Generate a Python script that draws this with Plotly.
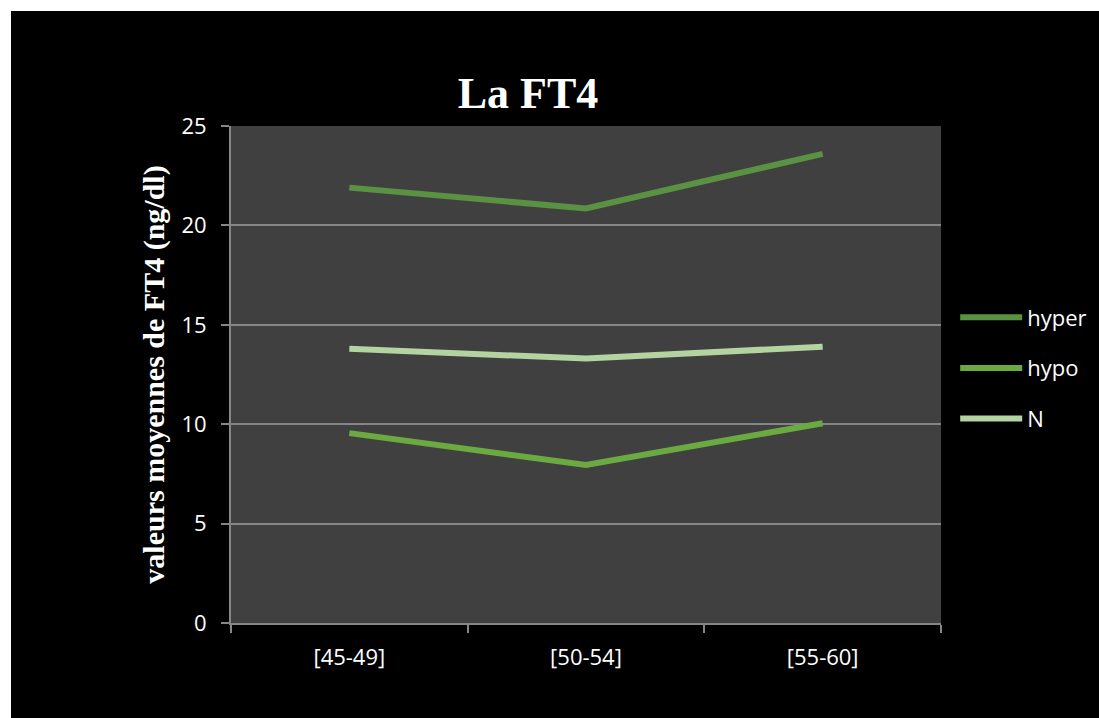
import plotly.graph_objects as go

categories = ["[45-49]", "[50-54]", "[55-60]"]
hyper = [21.9, 20.85, 23.6]
hypo = [9.55, 7.95, 10.05]
normal = [13.8, 13.3, 13.9]
series_names = ["hyper", "hypo", "N"]
series_colors = ["#5A9142", "#6BAA41", "#B3D3A0"]
y_ticks = [0, 5, 10, 15, 20, 25]

W, H = 1099, 718
L, R, T, B = 231, 158, 126, 95
pw, ph = W - L - R, H - T - B

fig = go.Figure()
for name, vals, col in zip(series_names, [hyper, hypo, normal], series_colors):
    fig.add_trace(go.Scatter(
        x=categories, y=vals, name=name, mode="lines", legendgroup=name,
        line=dict(color=col, width=6),
    ))

fig.update_layout(
    width=W, height=H,
    margin=dict(l=L, r=R, t=T, b=B, autoexpand=False),
    paper_bgcolor="black", plot_bgcolor="#404040",
    title=dict(text="<b>La FT4</b>", x=528 / W, xanchor="center", xref="container",
               y=1 - 93 / H, yanchor="middle", yref="container",
               font=dict(family="Liberation Serif", size=44, color="white")),
    font=dict(family="Open Sans", size=22, color="white"),
    showlegend=True,
    legend=dict(x=1.02, xanchor="left", y=(H - B - 368) / ph, yanchor="middle",
                bgcolor="rgba(0,0,0,0)", font=dict(size=22, color="white"),
                itemwidth=62, traceorder="grouped", tracegroupgap=19),
    xaxis=dict(type="category", range=[-0.5, 2.5], showgrid=False,
               showline=True, linecolor="#868686", linewidth=2,
               ticks="outside", tickson="boundaries", ticklen=8, tickcolor="#868686", tickwidth=2,
               ticklabelstandoff=14,
               tickfont=dict(size=22, color="white"), zeroline=False, fixedrange=True),
    yaxis=dict(range=[0, 25], tickvals=y_ticks, showgrid=True, gridcolor="#868686", gridwidth=2,
               showline=True, linecolor="#868686", linewidth=2,
               ticks="outside", ticklen=8, tickcolor="#868686", tickwidth=2,
               ticklabelstandoff=10,
               tickfont=dict(size=22, color="white"), zeroline=False,
               title=dict(text="<b>valeurs moyennes de FT4 (ng/dl)</b>", standoff=8,
                          font=dict(family="Liberation Serif", size=30, color="white")),
               fixedrange=True),
    shapes=[
        dict(type="rect", xref="paper", yref="paper", layer="above",
             x0=-L / pw, x1=(11 - L) / pw, y0=-B / ph, y1=1 + T / ph,
             fillcolor="white", line=dict(width=0)),
        dict(type="rect", xref="paper", yref="paper", layer="above",
             x0=-L / pw, x1=1 + R / pw, y0=1 + (T - 11) / ph, y1=1 + T / ph,
             fillcolor="white", line=dict(width=0)),
    ],
)

fig.write_html("out.html", config={"displayModeBar": False},
               post_script="document.body.style.margin='0';document.body.style.overflow='hidden';")
